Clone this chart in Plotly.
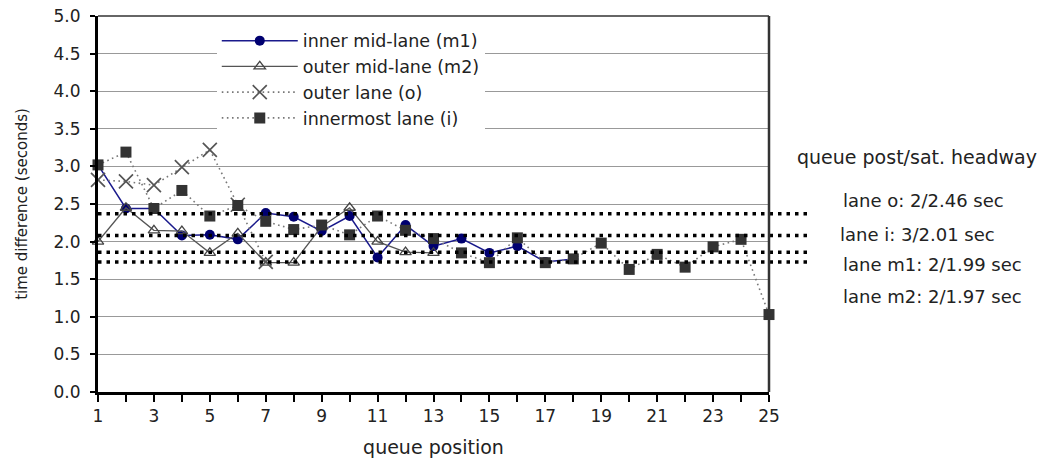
import plotly.graph_objects as go

# queue positions
pos_m1 = list(range(1, 19))
pos_m2 = list(range(1, 14))
pos_o = list(range(1, 8))
pos_i = list(range(1, 26))

# time differences (seconds)
m1_vals = [3.02, 2.44, 2.44, 2.08, 2.09, 2.03, 2.38, 2.33, 2.14, 2.34, 1.79, 2.22, 1.94, 2.04, 1.85, 1.94, 1.73, 1.77]
m2_vals = [2.00, 2.45, 2.15, 2.14, 1.85, 2.11, 1.72, 1.72, 2.20, 2.45, 2.00, 1.86, 1.85]
o_vals = [2.82, 2.80, 2.75, 2.99, 3.22, 2.49, 1.73]
i_vals = [3.02, 3.19, 2.44, 2.68, 2.34, 2.48, 2.27, 2.16, 2.22, 2.09, 2.34, 2.15, 2.04, 1.85, 1.72,
          2.05, 1.72, 1.77, 1.98, 1.63, 1.83, 1.66, 1.93, 2.03, 1.03]

# saturation headway reference lines (as drawn)
headway_vals = [2.37, 2.08, 1.86, 1.73]

# right-hand labels
side_title = "queue post/sat. headway"
side_labels = ["lane o: 2/2.46 sec", "lane i: 3/2.01 sec", "lane m1: 2/1.99 sec", "lane m2: 2/1.97 sec"]

x_tickvals = list(range(1, 26))
x_ticktext = [str(v) if v % 2 == 1 else "" for v in x_tickvals]

FONT = "DejaVu Sans, Liberation Sans, Arial, sans-serif"
TXT = "#222222"

fig = go.Figure()

fig.add_trace(go.Scatter(
    x=pos_m1, y=m1_vals, mode="lines+markers", name="inner mid-lane (m1)",
    line=dict(color="#1a1a8c", width=1.5),
    marker=dict(symbol="circle", size=10, color="#000070"),
    cliponaxis=False,
))
fig.add_trace(go.Scatter(
    x=pos_m2, y=m2_vals, mode="lines+markers", name="outer mid-lane (m2)",
    line=dict(color="#555555", width=1.3),
    marker=dict(symbol="triangle-up-open", size=10, color="#444444", line=dict(width=1.3)),
    cliponaxis=False,
))
fig.add_trace(go.Scatter(
    x=pos_o, y=o_vals, mode="lines+markers", name="outer lane (o)",
    line=dict(color="#777777", width=1.6, dash="1.6px,3.5px"),
    marker=dict(symbol="x-thin-open", size=14, color="#555555", line=dict(width=1.7, color="#555555")),
    cliponaxis=False,
))
fig.add_trace(go.Scatter(
    x=pos_i, y=i_vals, mode="lines+markers", name="innermost lane (i)",
    line=dict(color="#777777", width=1.6, dash="1.6px,3.5px"),
    marker=dict(symbol="square", size=11, color="#333333"),
    cliponaxis=False,
))

for hv in headway_vals:
    fig.add_shape(type="line", xref="paper", yref="y", x0=0, x1=1.061, y0=hv, y1=hv,
                  line=dict(color="black", width=3.5, dash="3.5px,5px"), layer="above")

ann_y = [0.508, 0.420, 0.338, 0.255]
ann_x = [1.108, 1.103, 1.108, 1.108]
fig.add_annotation(text=side_title, xref="paper", yref="paper", x=1.039, y=0.625,
                   xanchor="left", yanchor="middle", showarrow=False,
                   font=dict(family=FONT, size=19, color=TXT))
for txt, ax, ay in zip(side_labels, ann_x, ann_y):
    fig.add_annotation(text=txt, xref="paper", yref="paper", x=ax, y=ay,
                       xanchor="left", yanchor="middle", showarrow=False,
                       font=dict(family=FONT, size=18, color=TXT))

fig.update_layout(
    width=1053, height=461,
    margin=dict(l=98, r=284, t=16, b=69, autoexpand=False),
    paper_bgcolor="white", plot_bgcolor="white",
    font=dict(family=FONT, size=16, color=TXT),
    showlegend=True,
    legend=dict(x=0.177, y=0.982, xanchor="left", yanchor="top", bgcolor="white",
                font=dict(family=FONT, size=17.5, color=TXT), tracegroupgap=0,
                itemwidth=76),
    xaxis=dict(range=[1, 25], tickmode="array", tickvals=x_tickvals, ticktext=x_ticktext,
               ticks="outside", ticklen=7, tickwidth=2, tickcolor="black",
               showline=True, linecolor="black", linewidth=3, mirror=False,
               showgrid=False, zeroline=False, automargin=False,
               title=dict(text="queue position", font=dict(family=FONT, size=19, color=TXT), standoff=16),
               tickfont=dict(family=FONT, size=17, color=TXT)),
    yaxis=dict(range=[0, 5], dtick=0.5, tickformat=".1f",
               ticks="outside", ticklen=5, tickwidth=2, tickcolor="black",
               showline=True, linecolor="black", linewidth=3,
               showgrid=True, gridcolor="#999999", gridwidth=1, zeroline=False,
               automargin=False, ticklabelstandoff=6,
               title=dict(text="time difference (seconds)", font=dict(family=FONT, size=15, color=TXT), standoff=23),
               tickfont=dict(family=FONT, size=17, color=TXT)),
)

# top and right border
fig.add_shape(type="line", xref="paper", yref="paper", x0=0, x1=1, y0=1, y1=1,
              line=dict(color="#333333", width=1.5), layer="below")
fig.add_shape(type="line", xref="paper", yref="paper", x0=1, x1=1, y0=0, y1=1,
              line=dict(color="#333333", width=2.5), layer="above")

fig.write_html("out.html", config={"displayModeBar": False},
               post_script="document.body.style.margin='0';")
